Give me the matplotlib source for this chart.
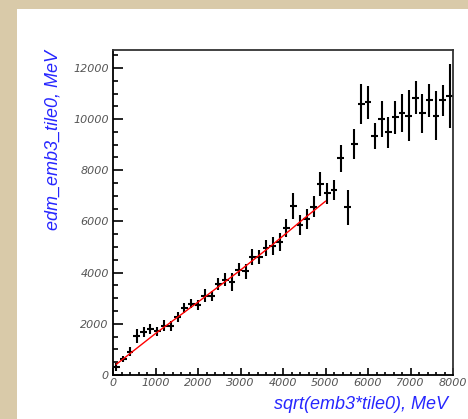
from matplotlib import pyplot as plt
from matplotlib.patches import Rectangle
from matplotlib.ticker import MultipleLocator

# bin centres (160 MeV bins) and measured values
x_vals = [80, 240, 400, 560, 720, 880, 1040, 1200, 1360, 1520,
          1680, 1840, 2000, 2160, 2320, 2480, 2640, 2800, 2960, 3120,
          3280, 3440, 3600, 3760, 3920, 4080, 4240, 4400, 4560, 4720,
          4880, 5040, 5200, 5360, 5520, 5680, 5840, 6000, 6160, 6320,
          6480, 6640, 6800, 6960, 7120, 7280, 7440, 7600, 7760, 7920]
y_vals = [300, 610, 910, 1520, 1680, 1800, 1710, 1930, 1910, 2270,
          2620, 2790, 2750, 3100, 3100, 3560, 3730, 3620, 4120, 4050,
          4600, 4600, 4960, 5030, 5180, 5740, 6610, 5860, 6090, 6580,
          7470, 7100, 7230, 8470, 6560, 9030, 10580, 10650, 9340, 9990,
          9480, 10070, 10250, 10130, 10830, 10220, 10740, 10130, 10740, 10900]
y_errs = [150, 120, 170, 280, 200, 200, 170, 200, 200, 180,
          200, 180, 200, 250, 200, 220, 250, 350, 250, 280,
          320, 280, 300, 350, 350, 350, 520, 400, 400, 400,
          480, 400, 400, 530, 680, 600, 780, 650, 500, 700,
          600, 650, 750, 1000, 650, 750, 650, 950, 600, 1250]
x_errs = [80] * len(x_vals)

# fit curve
fit_x = [80, 1000, 2000, 3000, 3700, 4470, 5000]
fit_y = [420, 1620, 2850, 4100, 5020, 6080, 6790]


def main():
    fig = plt.figure(figsize=(4.68, 4.19), dpi=100)
    fig.patch.set_facecolor('#d9caa9')
    # white pad of the canvas
    fig.patches.append(Rectangle((17 / 468, 0), 1, 1 - 9 / 419, transform=fig.transFigure,
                                 facecolor='white', edgecolor='none', zorder=-5))

    ax = fig.add_axes([113 / 468, 1 - 375 / 419, 340 / 468, 325 / 419])
    ax.set_zorder(3)
    ax.errorbar(x_vals, y_vals, xerr=x_errs, yerr=y_errs, fmt='none',
                ecolor='black', elinewidth=1.5, capsize=0)
    ax.plot(fit_x, fit_y, color='red', linewidth=1.0)

    ax.set_xlim(0, 8000)
    ax.set_ylim(0, 12700)
    ax.xaxis.set_major_locator(MultipleLocator(1000))
    ax.xaxis.set_minor_locator(MultipleLocator(200))
    ax.yaxis.set_major_locator(MultipleLocator(2000))
    ax.yaxis.set_minor_locator(MultipleLocator(500))

    ax.tick_params(axis='both', which='both', direction='in', top=False, right=False,
                   width=1.2, colors='black', labelcolor='#555555')
    ax.tick_params(axis='y', which='major', length=7.5, pad=3)
    ax.tick_params(axis='y', which='minor', length=3.8)
    ax.tick_params(axis='x', which='major', length=5, pad=2)
    ax.tick_params(axis='x', which='minor', length=2.5)
    for lab in ax.get_xticklabels() + ax.get_yticklabels():
        lab.set_family('DejaVu Sans')
        lab.set_style('italic')
        lab.set_fontsize(8)
    for s in ax.spines.values():
        s.set_linewidth(1.3)
    ax.spines['top'].set_color('#333333')
    ax.spines['right'].set_color('#333333')

    fig.text(448 / 468, 1 - 404 / 419, 'sqrt(emb3*tile0), MeV', color='#2626ff',
             fontsize=13, family='Liberation Sans', style='italic', ha='right', va='center',
             zorder=5)
    fig.text(53 / 468, 1 - 50 / 419, 'edm_emb3_tile0, MeV', color='#2626ff',
             fontsize=13, family='Liberation Sans', style='italic', ha='center', va='top',
             rotation=90, zorder=5)

    plt.savefig('out.png', dpi=100)


if __name__ == "__main__":
    main()
